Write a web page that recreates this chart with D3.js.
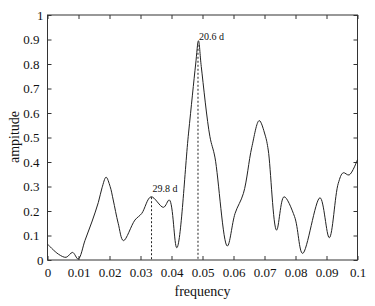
<!DOCTYPE html>
<html>
<head>
<meta charset="utf-8">
<script src="https://cdn.jsdelivr.net/npm/d3@7"></script>
<style>
  body { margin: 0; background: #fff; }
  text { font-family: "Liberation Serif", "Times New Roman", serif; fill: #111; }
</style>
</head>
<body>
<svg id="chart"></svg>
<script>
// spectrum
var freq = [0, 0.0035, 0.006, 0.0081, 0.0099, 0.0121, 0.0143, 0.0164, 0.0176, 0.0189, 0.0202, 0.0212,
    0.0228, 0.0245, 0.0282, 0.0304, 0.0334, 0.0374, 0.0393, 0.0417, 0.0455, 0.0478, 0.0487, 0.0496,
    0.0524, 0.054, 0.058, 0.0605, 0.0632, 0.0659, 0.0683, 0.0702, 0.0712, 0.0739, 0.0763, 0.0797,
    0.0823, 0.0879, 0.0909, 0.0938, 0.0954, 0.0973, 0.1];
var amp = [0.065, 0.024, 0.011, 0.031, 0.004, 0.08, 0.155, 0.235, 0.295, 0.338, 0.30, 0.245,
    0.15, 0.079, 0.163, 0.19, 0.258, 0.215, 0.245, 0.05, 0.518, 0.80, 0.895, 0.79,
    0.503, 0.42, 0.057, 0.19, 0.272, 0.46, 0.569, 0.51, 0.449, 0.122, 0.258, 0.177,
    0.027, 0.254, 0.091, 0.313, 0.356, 0.347, 0.41];

var periods = [29.8, 20.6];          // marked peaks, in days
var xTicks = d3.range(0, 0.1001, 0.01);
var yTicks = d3.range(0, 1.001, 0.1);

var w = 375, h = 306;
// plot box (note: "top" clashes with window.top)
var mLeft = 47.5, mRight = 357.5, mTop = 15, mBottom = 260;

var svg = d3.select("#chart").attr("width", w).attr("height", h);

var x = d3.scaleLinear().domain([0, 0.1]).range([mLeft, mRight]);
var y = d3.scaleLinear().domain([0, 1]).range([mBottom, mTop]);

var data = freq.map(function (f, i) { return { f: f, a: amp[i] }; });

// amplitude of the curve at a frequency (linear between read points)
function ampAt(f) {
    var i = d3.bisectRight(freq, f);
    var t = (f - freq[i - 1]) / (freq[i] - freq[i - 1]);
    return amp[i - 1] + t * (amp[i] - amp[i - 1]);
}

//ticks, inward on all four sides
svg.append("g").attr("transform", "translate(0," + mBottom + ")")
    .call(d3.axisBottom(x).tickValues(xTicks).tickSize(-4).tickPadding(8)
        .tickFormat(function (d) { return d === 0 ? "0" : d3.format(".2~f")(d); }))
    .call(function (g) { g.select(".domain").remove(); });
svg.append("g").attr("transform", "translate(0," + mTop + ")")
    .call(d3.axisTop(x).tickValues(xTicks).tickSize(-4).tickFormat(""))
    .call(function (g) { g.select(".domain").remove(); });
var ya = svg.append("g").attr("transform", "translate(" + mLeft + ",0)")
    .call(d3.axisLeft(y).tickValues(yTicks).tickSize(-4).tickPadding(8)
        .tickFormat(function (d) { return d3.format(".1~f")(d); }))
    .call(function (g) { g.select(".domain").remove(); });
svg.append("g").attr("transform", "translate(" + mRight + ",0)")
    .call(d3.axisRight(y).tickValues(yTicks).tickSize(-4).tickFormat(""))
    .call(function (g) { g.select(".domain").remove(); });

svg.selectAll(".tick line").attr("stroke", "#333");
svg.selectAll(".tick text").style("font-size", "13px")
    .style("font-family", '"Liberation Serif", serif').attr("fill", "#111");
ya.selectAll(".tick text").attr("x", function (d) {
    return (Math.abs(d) < 1e-9 || Math.abs(d - 1) < 1e-9) ? -4 : -8;
});

svg.append("rect")
    .attr("x", mLeft).attr("y", mTop)
    .attr("width", mRight - mLeft).attr("height", mBottom - mTop)
    .attr("fill", "none").attr("stroke", "#333").attr("stroke-width", 1);

// dashed markers at the labelled peaks
periods.forEach(function (p) {
    var f = 1 / p;
    svg.append("line")
        .attr("x1", x(f)).attr("x2", x(f))
        .attr("y1", y(ampAt(f))).attr("y2", mBottom)
        .attr("stroke", "#222").attr("stroke-width", 1)
        .attr("stroke-dasharray", "2,2");
    svg.append("text")
        .attr("x", x(f) + 1).attr("y", y(ampAt(f)) - 5)
        .style("font-size", "10px")
        .text(p + " d");
});

svg.append("path")
    .datum(data)
    .attr("fill", "none")
    .attr("stroke", "#222")
    .attr("stroke-width", 1)
    .attr("d", d3.line()
        .x(function (d) { return x(d.f); })
        .y(function (d) { return y(d.a); })
        .curve(d3.curveCatmullRom.alpha(0.5)));

svg.append("text")
    .attr("x", (mLeft + mRight) / 2).attr("y", 296)
    .attr("text-anchor", "middle")
    .style("font-size", "14px")
    .text("frequency");

svg.append("text")
    .attr("transform", "translate(19,137) rotate(-90)")
    .attr("text-anchor", "middle")
    .style("font-size", "14px")
    .text("ampitude");
</script>
</body>
</html>
